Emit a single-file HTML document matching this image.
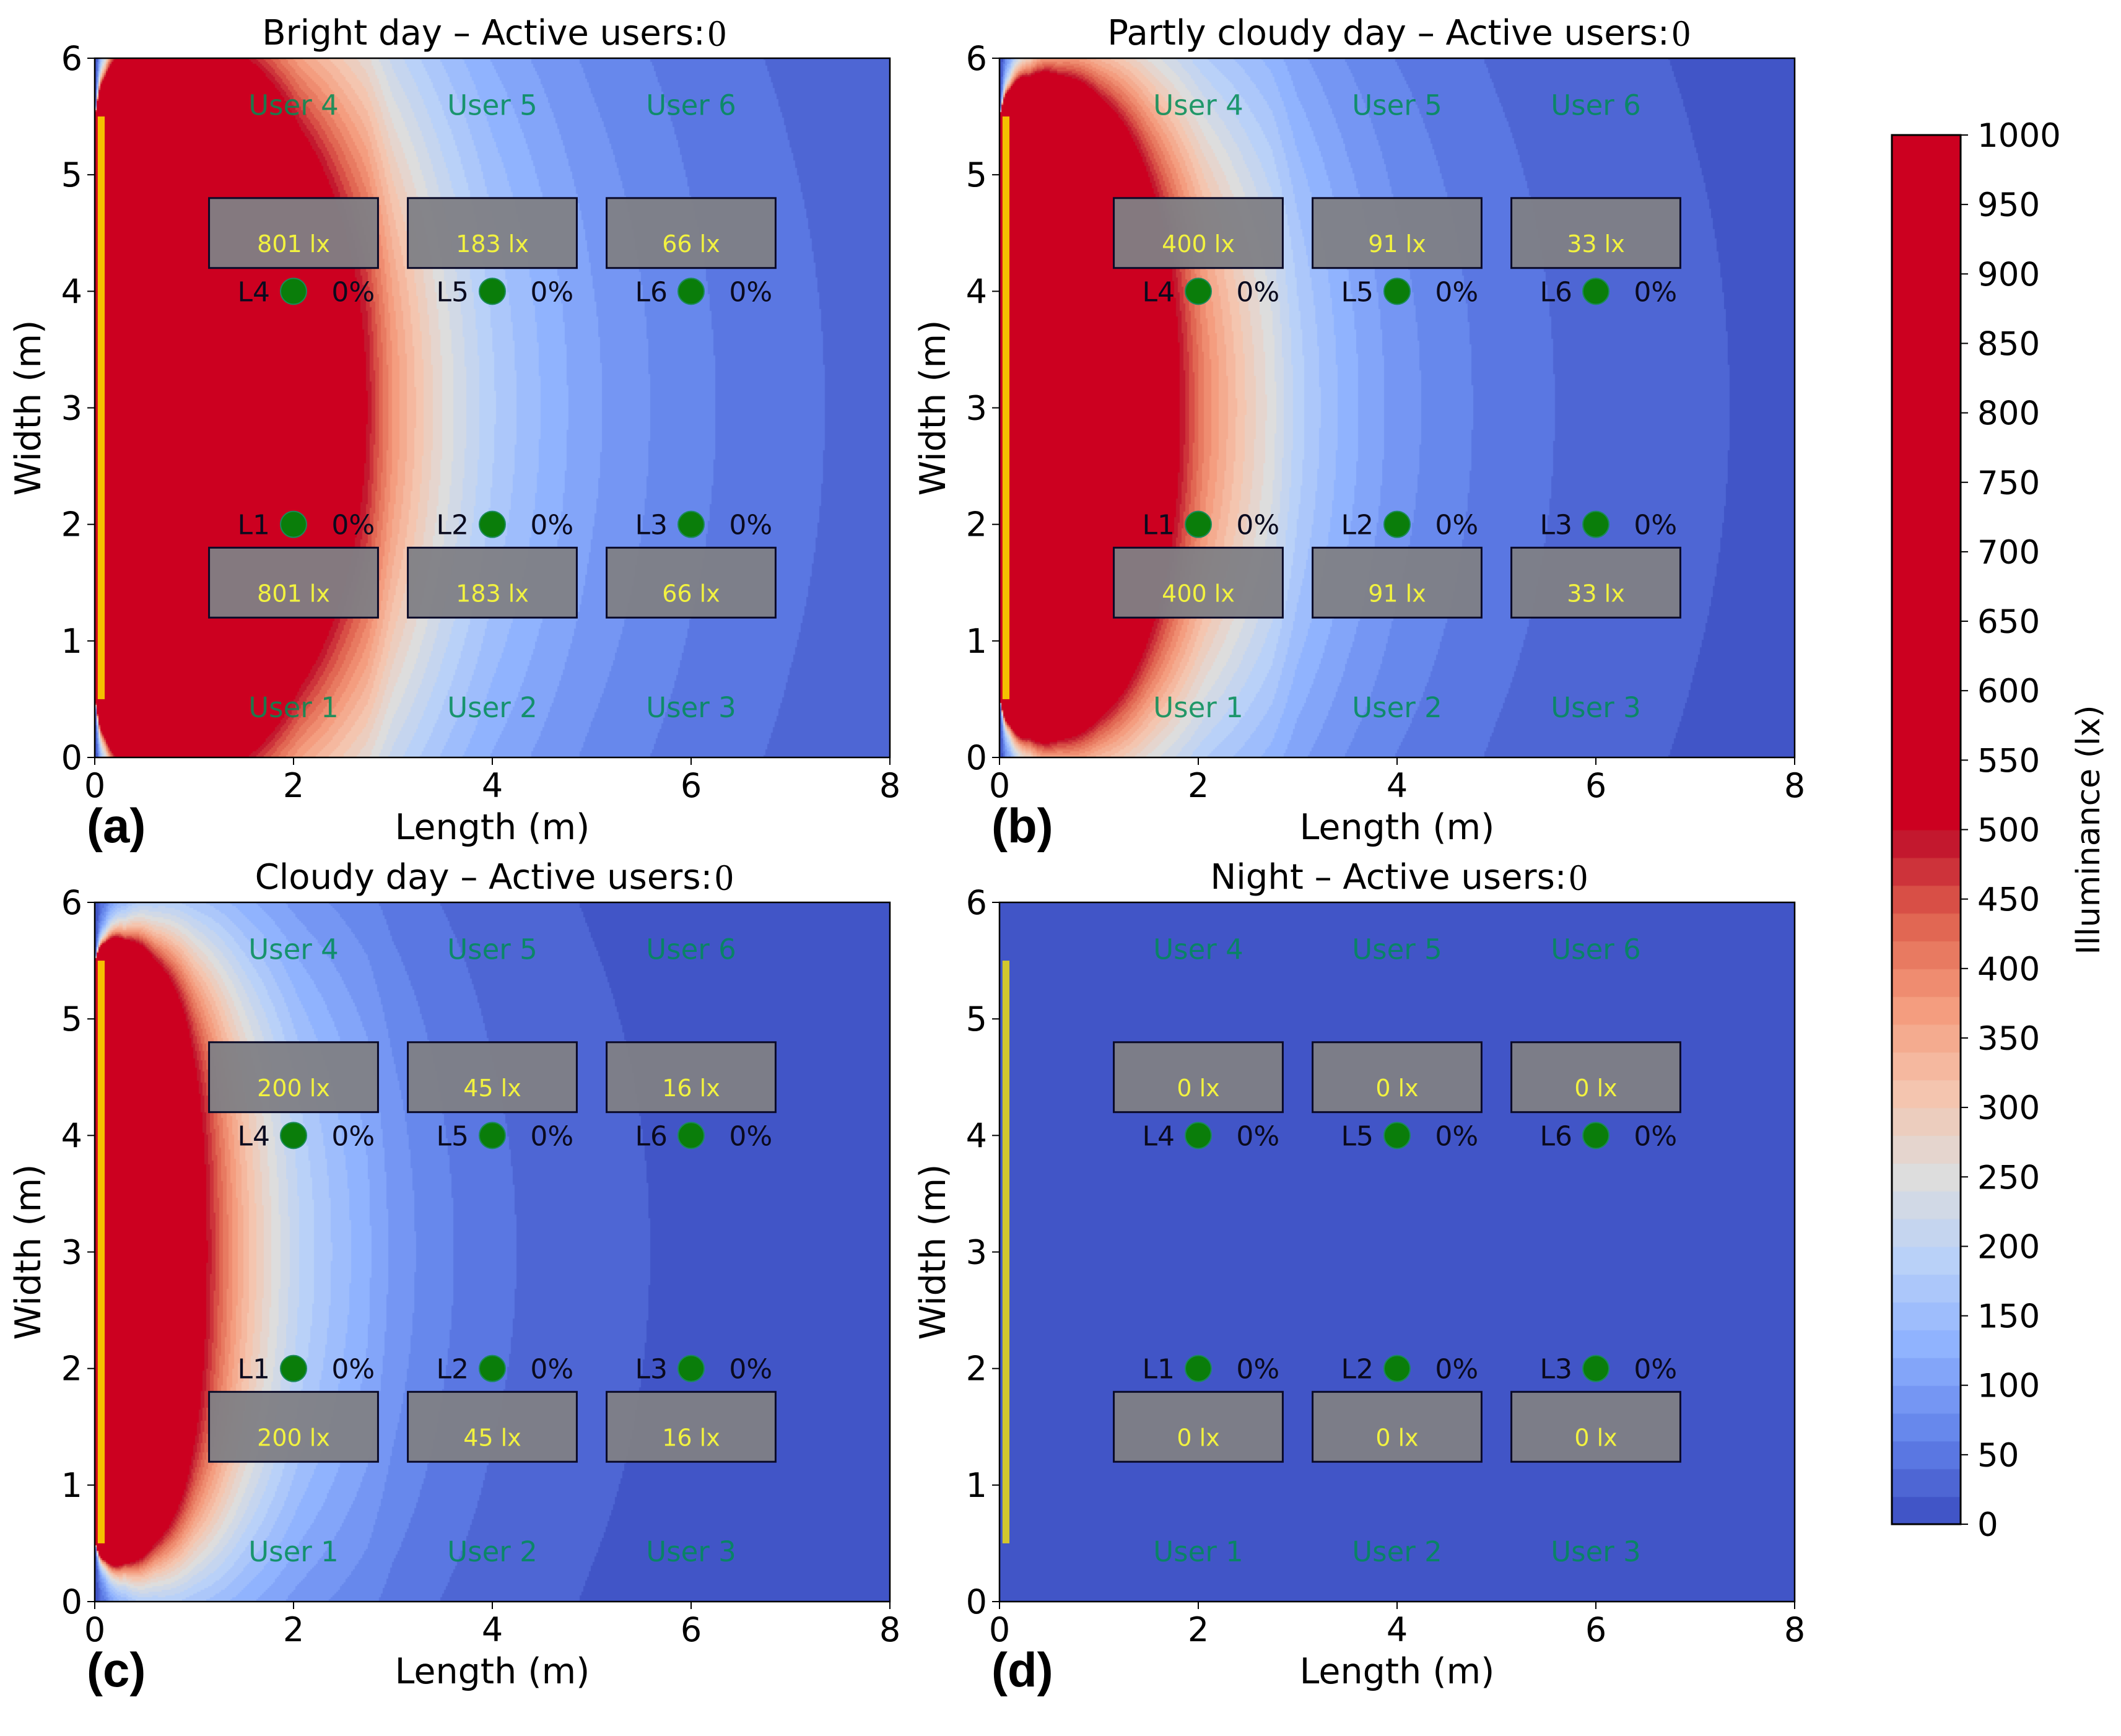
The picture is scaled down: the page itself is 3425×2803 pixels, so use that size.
<!DOCTYPE html>
<html><head><meta charset="utf-8">
<style>
html,body{margin:0;padding:0;background:#fff;}
#root{position:relative;width:3425px;height:2803px;overflow:hidden;background:#fff;font-family:"DejaVu Sans","Liberation Sans",sans-serif;}
canvas{position:absolute;}
svg{position:absolute;left:0;top:0;}
</style></head>
<body>
<div id="root">
<canvas id="hm0"></canvas>
<canvas id="hm1"></canvas>
<canvas id="hm2"></canvas>
<canvas id="hm3"></canvas>
<canvas id="cbar"></canvas>
<svg id="ov" width="3425" height="2803"></svg>
</div>
<script>
// ---- data ----
const panelTitles = ["Bright day \u2013 Active users:", "Partly cloudy day \u2013 Active users:", "Cloudy day \u2013 Active users:", "Night \u2013 Active users:"];
const panelLetters = ["(a)", "(b)", "(c)", "(d)"];
const daylightFactor = [1, 0.5, 0.25, 0];
// bright-day illuminance along the room mid-line (y=3) vs distance from window (m -> lx)
const profileDist = [0.05, 0.1, 0.3, 0.6, 1.0, 1.5, 2.06, 2.74, 3.0, 3.5, 4.0, 5.0, 6.0, 7.0, 8.0, 9.0];
const profileLux  = [46000, 23000, 8000, 4000, 2300, 1350, 801, 500, 380, 260, 183, 105, 66, 45, 32, 24];
const windowY = [0.5, 5.5];
const deskLux = [[801,183,66],[400,91,33],[200,45,16],[0,0,0]];
const deskCentersX = [2, 4, 6];
const deskRowsY = [4.5, 1.5];
const lampNamesTop = ["L4","L5","L6"], lampNamesBot = ["L1","L2","L3"];
const lampDim = [0,0,0,0,0,0];
const usersTop = ["User 4","User 5","User 6"], usersBot = ["User 1","User 2","User 3"];
const xTicks = [0,2,4,6,8], yTicks = [0,1,2,3,4,5,6];
const cbTicks = [0,50,100,150,200,250,300,350,400,450,500,550,600,650,700,750,800,850,900,950,1000];
const levelStep = 20, levelMax = 500;

// ---- layout ----
const PL = [153, 1614, 153, 1614], PT = [94, 94, 1457, 1457], PW = 1284, PH = 1129;
const CB = {x: 3055, y: 218, w: 111, h: 2243, min: 0, max: 1000};
const NS = "http://www.w3.org/2000/svg";
const ov = document.getElementById('ov');

const cw = [[0,59,76,192],[0.125,98,130,234],[0.25,141,176,254],[0.375,184,208,249],[0.5,221,221,221],[0.625,245,196,173],[0.75,244,154,123],[0.875,222,96,77],[1,190,10,40]];
function coolwarm(t){
  t = Math.max(0, Math.min(1, t));
  for (let i = 1; i < cw.length; i++) {
    if (t <= cw[i][0]) {
      const a = cw[i-1], b = cw[i], f = (t - a[0]) / (b[0] - a[0]);
      return [0,1,2].map(k => Math.round(a[k+1] + (b[k+1] - a[k+1]) * f));
    }
  }
  return cw[cw.length-1].slice(1);
}
const overColor = [204, 0, 32];
function luxColor(v){
  if (v >= levelMax) return overColor;
  const lv = Math.floor(v / levelStep);
  const n = levelMax / levelStep;
  return coolwarm((lv + 0.5) / n);
}
function profile(r){
  if (r <= profileDist[0]) return profileLux[0];
  for (let i = 1; i < profileDist.length; i++) {
    if (r <= profileDist[i]) {
      const f = (r - profileDist[i-1]) / (profileDist[i] - profileDist[i-1]);
      return Math.exp(Math.log(profileLux[i-1]) + (Math.log(profileLux[i]) - Math.log(profileLux[i-1])) * f);
    }
  }
  return profileLux[profileLux.length-1];
}
// relative view factor of the window strip from point (x,y)
function shape(x, y){
  const u1 = y - windowY[1], u2 = y - windowY[0];
  return (u2 / Math.sqrt(x*x + u2*u2) - u1 / Math.sqrt(x*x + u1*u1)) / x;
}
function field(x, y, k){
  const ym = (windowY[0] + windowY[1]) / 2;
  return profile(x) * shape(x, y) / shape(x, ym) * k;
}
function el(tag, attrs, text){
  const e = document.createElementNS(NS, tag);
  for (const k in attrs) e.setAttribute(k, attrs[k]);
  if (text !== undefined) e.textContent = text;
  ov.appendChild(e);
  return e;
}

for (let p = 0; p < 4; p++) {
  const L = PL[p], T = PT[p];
  const sx = x => L + x / 8 * PW;
  const sy = y => T + (6 - y) / 6 * PH;
  const cv = document.getElementById('hm' + p);
  cv.width = PW; cv.height = PH; cv.style.left = L + 'px'; cv.style.top = T + 'px';
  const ctx = cv.getContext('2d');
  const nx = 428, ny = 376, cwd = PW / nx, chd = PH / ny;
  for (let i = 0; i < nx; i++) for (let j = 0; j < ny; j++) {
    const x = (i + 0.5) / nx * 8, y = 6 - (j + 0.5) / ny * 6;
    const c = luxColor(field(x, y, daylightFactor[p]));
    ctx.fillStyle = 'rgb(' + c + ')';
    ctx.fillRect(Math.floor(i * cwd), Math.floor(j * chd), Math.ceil(cwd) + 1, Math.ceil(chd) + 1);
  }
  let w = el('rect', {x: sx(0.03), y: sy(5.5), width: sx(0.1) - sx(0.03), height: sy(0.5) - sy(5.5), fill: p === 3 ? '#d2c62e' : '#f5c000'});
  
  
  let fr = el('rect', {x: L, y: T, width: PW, height: PH, fill: 'none', stroke: '#000', 'stroke-width': 2.5});
  
  
  deskRowsY.forEach((dyc, row) => {
    deskCentersX.forEach((dx, c) => {
      let r = el('rect', {x: sx(dx - 0.85), y: sy(dyc + 0.3), width: sx(1.7) - sx(0), height: sy(0) - sy(0.6), fill: '#808085', 'fill-opacity': 0.95, stroke: '#0a0a28', 'stroke-width': 3});
      
      
      let t = el('text', {x: sx(dx), y: sy(dyc - 0.09) + 14, 'text-anchor': 'middle', 'font-size': 38, fill: '#f2f240'}, deskLux[p][c] + ' lx');
      
      
    });
  });
  [[4, lampNamesTop], [2, lampNamesBot]].forEach(([ly, names], row) => {
    deskCentersX.forEach((lx, c) => {
      let ci = el('circle', {cx: sx(lx), cy: sy(ly), r: 21, fill: '#0a7d0a', stroke: '#1a8a5a', 'stroke-width': 2});
      
      
      let ln = el('text', {x: sx(lx - 0.4), y: sy(ly) + 16, 'text-anchor': 'middle', 'font-size': 44, fill: '#0a0a1e'}, names[c]);
      
      
      let pc = el('text', {x: sx(lx + 0.6), y: sy(ly) + 16, 'text-anchor': 'middle', 'font-size': 44, fill: '#0a0a1e'}, lampDim[row * 3 + c] + '%');
      
      
    });
  });
  [[5.6, usersTop], [0.43, usersBot]].forEach(([uy, names]) => {
    deskCentersX.forEach((ux, c) => {
      let u = el('text', {x: sx(ux), y: sy(uy) + 16, 'text-anchor': 'middle', 'font-size': 45, fill: '#008c55', 'fill-opacity': 0.85}, names[c]);
      
      
    });
  });
  xTicks.forEach(v => {
    el('line', {x1: sx(v), x2: sx(v), y1: T + PH, y2: T + PH + 12, stroke: '#000', 'stroke-width': 2});
    let t = el('text', {x: sx(v), y: T + PH + 64, 'text-anchor': 'middle', 'font-size': 54, fill: '#000'}, v);
    
    
  });
  yTicks.forEach(v => {
    el('line', {x1: L - 12, x2: L, y1: sy(v), y2: sy(v), stroke: '#000', 'stroke-width': 2});
    let t = el('text', {x: L - 20, y: sy(v) + 19, 'text-anchor': 'end', 'font-size': 54, fill: '#000'}, v);
    
    
  });
  let xl = el('text', {x: L + PW / 2, y: T + PH + 132, 'text-anchor': 'middle', 'font-size': 57, fill: '#000'}, 'Length (m)');
  
  
  let yl = el('text', {x: 0, y: 0, 'text-anchor': 'middle', 'font-size': 57, fill: '#000', transform: 'translate(' + (L - 88) + ',' + (T + PH / 2) + ') rotate(-90)'}, 'Width (m)');
  
  
  let ti = el('text', {x: L + PW / 2 - 14, y: T - 22, 'text-anchor': 'middle', 'font-size': 56, fill: '#000'}, panelTitles[p]);
  
  
  let z = el('text', {x: L + PW / 2 + ti.getComputedTextLength() / 2 - 10, y: T - 20, 'font-size': 60, fill: '#000', 'font-family': 'Liberation Serif, serif'}, '0');
  
  
  let lt = el('text', {x: L - 13, y: T + PH + 137, 'font-size': 78, 'font-weight': 'bold', fill: '#000', 'font-family': 'Liberation Sans, sans-serif'}, panelLetters[p]);
  
  
}

const cb = document.getElementById('cbar');
cb.width = CB.w; cb.height = CB.h; cb.style.left = CB.x + 'px'; cb.style.top = CB.y + 'px';
const cctx = cb.getContext('2d');
const cby = v => CB.h - (v - CB.min) / (CB.max - CB.min) * CB.h;
for (let v = 0; v < levelMax; v += levelStep) {
  const c = luxColor(v + levelStep / 2);
  cctx.fillStyle = 'rgb(' + c + ')';
  cctx.fillRect(0, cby(v + levelStep), CB.w, cby(v) - cby(v + levelStep) + 1);
}
cctx.fillStyle = 'rgb(' + overColor + ')';
cctx.fillRect(0, 0, CB.w, cby(levelMax) + 1);
let cf = el('rect', {x: CB.x, y: CB.y, width: CB.w, height: CB.h, fill: 'none', stroke: '#000', 'stroke-width': 3});


cbTicks.forEach(v => {
  const yy = CB.y + cby(v);
  el('line', {x1: CB.x + CB.w, x2: CB.x + CB.w + 12, y1: yy, y2: yy, stroke: '#000', 'stroke-width': 2});
  let t = el('text', {x: CB.x + CB.w + 27, y: yy + 19, 'font-size': 53, fill: '#000'}, v);
  
  
});
let cl = el('text', {x: 0, y: 0, 'text-anchor': 'middle', 'font-size': 52, fill: '#000', transform: 'translate(3390,1340) rotate(-90)'}, 'Illuminance (lx)');


</script>
</body></html>
